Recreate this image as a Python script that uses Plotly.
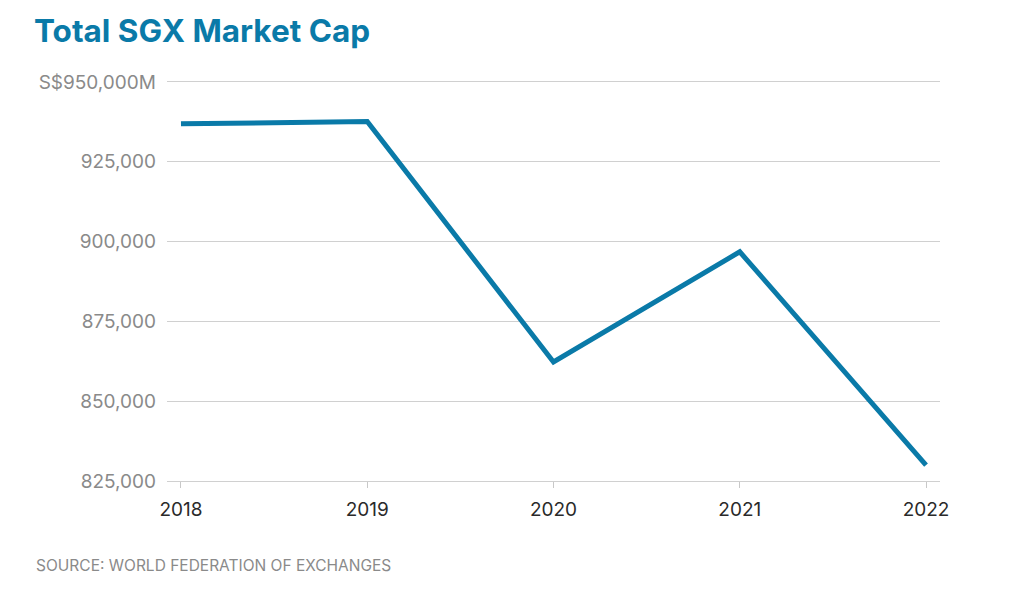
import plotly.graph_objects as go

years = ["2018", "2019", "2020", "2021", "2022"]
market_cap = [936900, 937600, 862300, 896800, 830000]
y_tick_vals = [825000, 850000, 875000, 900000, 925000, 950000]
y_tick_text = ["825,000", "850,000", "875,000", "900,000", "925,000", "S$950,000M"]

BLUE = "#0a7aa8"
GRAY = "#8a8a8a"
GRID = "#d0d0d0"

# page body has an 8px offset; figure sized to fit
W, H = 1008, 584
L, T, R, B = 159, 74, 1008 - 932, 584 - 473
PH = H - T - B
PW = W - L - R

fig = go.Figure()
fig.add_trace(go.Scatter(
    x=list(range(len(years))), y=market_cap, mode="lines",
    line=dict(color=BLUE, width=5), hoverinfo="skip", cliponaxis=False,
))

fig.update_layout(
    width=W, height=H,
    margin=dict(l=L, r=R, t=T, b=B),
    paper_bgcolor="white", plot_bgcolor="white",
    showlegend=False,
    font=dict(family="Inter, Roboto, sans-serif", color=GRAY),
    title=dict(text="<b>Total SGX Market Cap</b>", x=26 / W, xanchor="left",
               y=1 - 23 / H, yanchor="middle",
               font=dict(size=31.5, color=BLUE, family="Inter, Roboto, sans-serif")),
    xaxis=dict(
        tickmode="array", tickvals=list(range(len(years))), ticktext=years,
        range=[-0.075, 4.075], showgrid=False, zeroline=False,
        showline=True, linecolor=GRID, linewidth=1, mirror=True,
        ticks="outside", ticklen=6, tickcolor="#c8c8c8",
        tickfont=dict(size=19, color="#2a2a2a"), ticklabelstandoff=5,
    ),
    yaxis=dict(
        tickmode="array", tickvals=y_tick_vals, ticktext=y_tick_text,
        range=[825000, 950000], showgrid=True, gridcolor=GRID, gridwidth=1,
        zeroline=False, showline=False, ticks="", ticklabelstandoff=10,
        tickfont=dict(size=19, color=GRAY),
    ),
    annotations=[dict(
        text="SOURCE: WORLD FEDERATION OF EXCHANGES", xref="paper", yref="paper",
        x=-(L - 26) / PW, y=-(557 - 473) / PH, xanchor="left", yanchor="middle", showarrow=False,
        font=dict(size=15.5, color=GRAY),
    )],
)

fig.write_html("out.html")
